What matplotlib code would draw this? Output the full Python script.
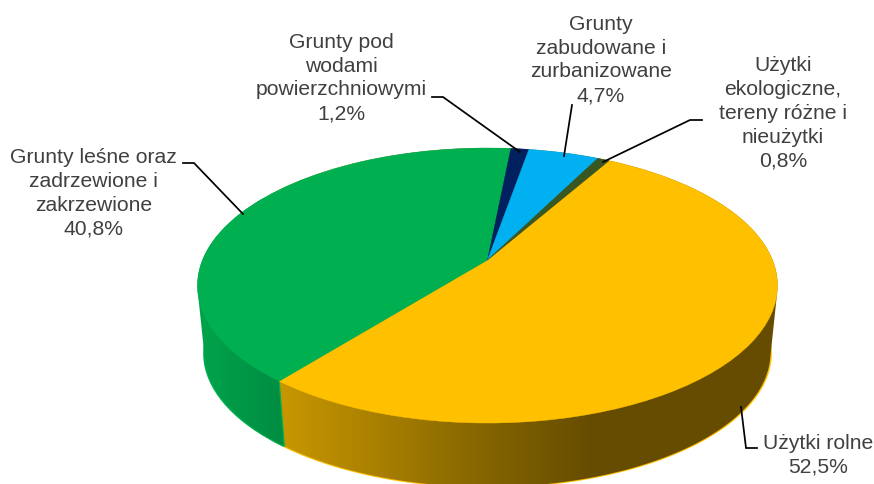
import numpy as np
import matplotlib
matplotlib.use('Agg')
import matplotlib.pyplot as plt
from matplotlib.patches import Polygon
from matplotlib.transforms import Transform

# share of land use, clockwise from the upper right
names = ['Użytki rolne',
         'Grunty leśne oraz\nzadrzewione i\nzakrzewione',
         'Grunty pod\nwodami\npowierzchniowymi',
         'Grunty\nzabudowane i\nzurbanizowane',
         'Użytki\nekologiczne,\ntereny różne i\nnieużytki']
values = [52.5, 40.8, 1.2, 4.7, 0.8]
colors = ['#FFC000', '#00B050', '#002060', '#00B0F0', '#385723']

# label centres and leader lines in pixels
label_xy = [(818, 455), (93.5, 193.5), (341, 78), (601, 60), (783, 113.5)]
leaders = [[(757, 448), (746, 448), (741, 407)],
           [(183, 163), (194, 163), (243, 214)],
           [(432, 97), (443, 97), (520, 152)],
           [(572, 105), (564, 156)],
           [(702, 120), (690, 120), (603, 162)]]

# wall shading, colour stops along x in pixels
wall_stops = {0: [(285, (0.78, 0.59, 0.0)), (500, (0.50, 0.38, 0.0)),
                  (590, (0.40, 0.30, 0.0)), (780, (0.40, 0.30, 0.0))],
              1: [(200, (0.0, 0.64, 0.29)), (285, (0.0, 0.55, 0.26))]}

START_ANGLE = 60.3
TILT = 0.1855


class DiscTransform(Transform):
    # perspective view of the unit disc, result in pixels
    input_dims = 2
    output_dims = 2

    def __init__(self, cx, cy, a, b):
        super().__init__()
        self.cx, self.cy, self.a, self.b = cx, cy, a, b

    def transform_non_affine(self, values):
        values = np.asarray(values, dtype=float)
        w = 1 + TILT * values[:, 1]
        return np.column_stack([self.cx + self.a * values[:, 0] / w,
                                self.cy - self.b * values[:, 1] / w])


top_disc = DiscTransform(487.5, 260, 285, 132.8)
bottom_disc = DiscTransform(487.5, 328, 278, 129.5)


def rim(disc, angles):
    t = np.radians(angles)
    return disc.transform_non_affine(np.column_stack([np.cos(t), np.sin(t)]))


def half_hull(points):
    hull = []
    for p in points:
        while len(hull) > 1:
            a, b = hull[-1] - hull[-2], p - hull[-1]
            if a[0] * b[1] - a[1] * b[0] > 0:
                break
            hull.pop()
        hull.append(p)
    return hull[:-1]


def convex_hull(points):
    points = points[np.lexsort((points[:, 1], points[:, 0]))]
    return np.array(half_hull(points) + half_hull(points[::-1]))


plt.rcParams['font.family'] = ['Liberation Sans', 'DejaVu Sans']
fig = plt.figure(figsize=(8.74, 4.84), dpi=100)
ax = fig.add_axes([0, 0, 1, 1])

# bottom disc sticks out slightly, gives the thin light edge under the wall
bottom, _ = ax.pie(values, colors=colors, startangle=START_ANGLE, counterclock=False, radius=1.005)
for w in bottom:
    w.set_transform(bottom_disc + ax.transData)
    w.set_zorder(1)

top, _ = ax.pie(values, colors=colors, startangle=START_ANGLE, counterclock=False)

for i, w in enumerate(top):
    w.set_transform(top_disc + ax.transData)
    w.set_zorder(3)
    w.set_edgecolor(colors[i])
    w.set_linewidth(0.3)

# side wall: hull of both rims, cut in two at the yellow/green seam
all_angles = np.linspace(0, 360, 720, endpoint=False)
hull = convex_hull(np.vstack([rim(top_disc, all_angles), rim(bottom_disc, all_angles)]))
seam = np.vstack([rim(top_disc, [top[0].theta1]), rim(bottom_disc, [top[0].theta1])])
seam_dir = seam[1] - seam[0]
side = seam_dir[0] * (hull[:, 1] - seam[0][1]) - seam_dir[1] * (hull[:, 0] - seam[0][0])

xs = np.arange(0, 875)
for i, stops in wall_stops.items():
    keep = side < 0 if i == 0 else side > 0
    pts = np.vstack([hull[keep], seam])
    mid = pts.mean(axis=0)
    pts = pts[np.argsort(np.arctan2(pts[:, 1] - mid[1], pts[:, 0] - mid[0]))]
    grad = np.column_stack([np.interp(xs, [s[0] for s in stops], [s[1][c] for s in stops])
                            for c in range(3)])[np.newaxis, :, :]
    im = ax.imshow(grad, extent=(0, 875, 484, 0), aspect='auto', zorder=2, interpolation='bilinear')
    im.set_clip_path(Polygon(pts, closed=True, transform=ax.transData))

# lighter seam where the green wall meets the yellow one
ax.plot(seam[:, 0], seam[:, 1], color='#00B050', lw=0.9, zorder=2.5)

for pts in leaders:
    ax.plot([p[0] for p in pts], [p[1] for p in pts], color='black', lw=1.25, zorder=5,
            solid_joinstyle='miter')

for name, val, xy in zip(names, values, label_xy):
    txt = name + '\n' + f'{val:.1f}%'.replace('.', ',')
    ax.text(xy[0], xy[1], txt, ha='center', va='center', fontsize=15.2, color='#404040',
            linespacing=1.33, zorder=6)

ax.set_aspect('auto')
ax.set_xlim(0, 874)
ax.set_ylim(484, 0)
ax.axis('off')
fig.savefig('out.png', dpi=100, facecolor='white')
